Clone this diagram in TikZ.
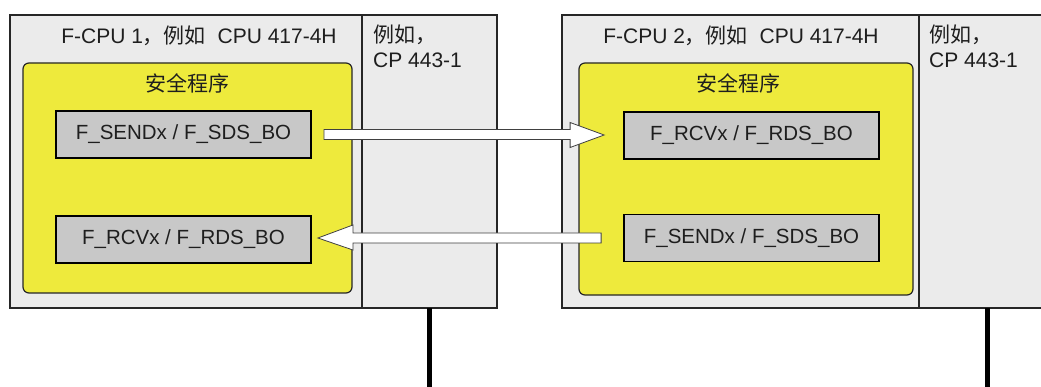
\documentclass[tikz,border=0pt]{standalone}
\usepackage{fontspec}
\setmainfont{Liberation Sans}
\newfontfamily\cjk{Noto Sans CJK SC}
\usetikzlibrary{calc}
\definecolor{cpugray}{RGB}{235,235,235}
\definecolor{safeyellow}{RGB}{238,234,60}
\definecolor{fbgray}{RGB}{200,200,200}
\definecolor{txt}{RGB}{30,30,30}
\begin{document}
\begin{tikzpicture}[x=1pt,y=-1pt,
  cpubox/.style={draw=black!85, line width=1.3pt, fill=cpugray, inner sep=0pt, outer sep=0pt},
  safebox/.style={draw=black!85, line width=1.2pt, fill=safeyellow, rounded corners=6pt, inner sep=0pt},
  fbbox/.style={draw=black, line width=1.8pt, fill=fbgray, minimum width=255pt, minimum height=47pt, inner sep=0pt, font=\fontsize{20.5}{24}\selectfont, text=txt},
  title/.style={font=\fontsize{21}{25}\selectfont, text=txt, inner sep=0pt},
  cplabel/.style={font=\fontsize{21}{25}\selectfont, text=txt, align=left, anchor=north west, inner sep=0pt},
  blockarrow/.style={fill=white, draw=black!75, line width=0.8pt, line join=miter},
  bus/.style={line width=5pt, draw=black}]
\clip (0,0) rectangle (1041,387);
% CPU 1
\node[cpubox, minimum width=352pt, minimum height=293pt] (cpu1) at (186,161.5) {};
\node[cpubox, minimum width=135pt, minimum height=293pt] (cp1) at (429.5,161.5) {};
\node[safebox, minimum width=329pt, minimum height=230pt] (safe1) at (187.5,178) {};
\node[title] (t1) at (199,36) {F-CPU 1{\cjk ，例如}\ \ CPU 417-4H};
\node[cplabel] (c1) at (373,25) {{\cjk 例如，}\\CP 443-1};
\node[title] (s1t) at (187,83) {\cjk 安全程序};
\node[fbbox] (s1) at (183.5,134.5) {F\_SENDx / F\_SDS\_BO};
\node[fbbox] (l2) at (183.5,239.5) {F\_RCVx / F\_RDS\_BO};
% CPU 2
\node[cpubox, minimum width=357pt, minimum height=293pt] (cpu2) at (740.5,161.5) {};
\node[cpubox, minimum width=137pt, minimum height=293pt] (cp2) at (987.5,161.5) {};
\node[safebox, minimum width=334pt, minimum height=232pt] (safe2) at (746,179) {};
\node[title] (t2) at (741,36) {F-CPU 2{\cjk ，例如}\ \ CPU 417-4H};
\node[cplabel] (c2) at (929,25) {{\cjk 例如，}\\CP 443-1};
\node[title] (s2t) at (738,83) {\cjk 安全程序};
\node[fbbox] (r2) at (751.5,135.5) {F\_RCVx / F\_RDS\_BO};
\node[fbbox] (r3) at (751.5,238) {F\_SENDx / F\_SDS\_BO};
% arrows
\filldraw[blockarrow] ($(s1.east |- r2.west)+(12,-6)$) -- ($(r2.west)+(-53,-6)$) -- ($(r2.west)+(-53,-13)$) -- ($(r2.west)+(-19,-0.5)$) -- ($(r2.west)+(-53,12)$) -- ($(r2.west)+(-53,4)$) -- ($(s1.east |- r2.west)+(12,4)$) -- cycle;
\filldraw[blockarrow] ($(r3.west)+(-22,-5)$) -- ($(l2.east |- r3.west)+(41,-5)$) -- ($(l2.east |- r3.west)+(41,-13)$) -- ($(l2.east |- r3.west)+(6,0)$) -- ($(l2.east |- r3.west)+(41,12)$) -- ($(l2.east |- r3.west)+(41,5)$) -- ($(r3.west)+(-22,5)$) -- cycle;
% bus lines
\coordinate (b1) at (cp1.south |- 0,390);
\coordinate (b2) at (cp2.south |- 0,390);
\draw[bus] (cp1.south) -- (b1);
\draw[bus] (cp2.south) -- (b2);
\end{tikzpicture}
\end{document}
